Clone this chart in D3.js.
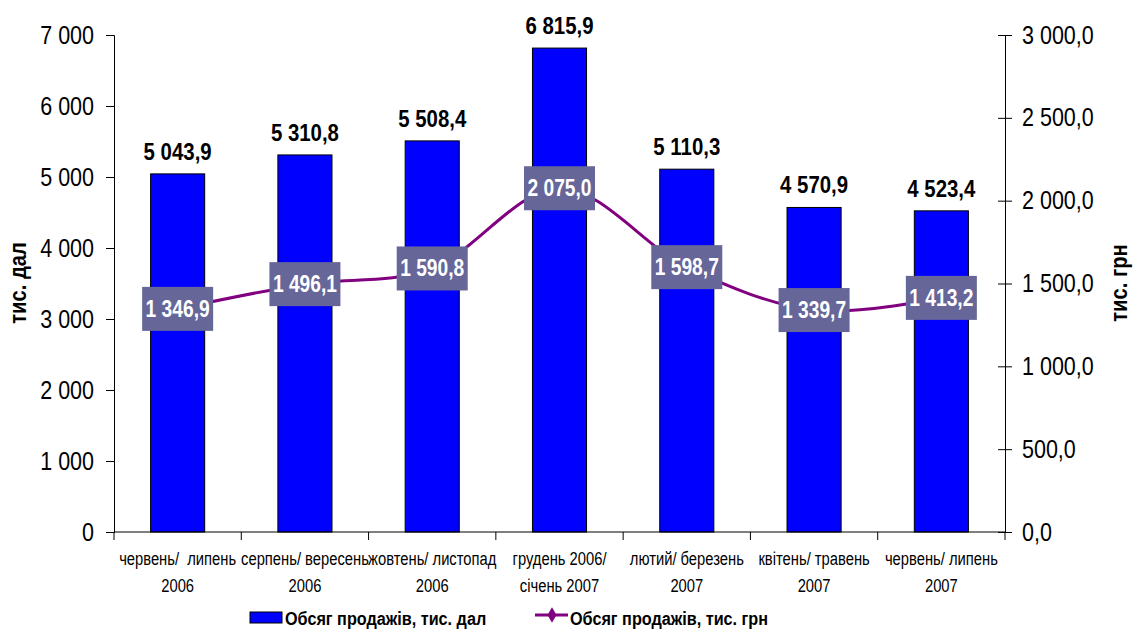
<!DOCTYPE html>
<html><head><meta charset="utf-8">
<script src="https://cdn.jsdelivr.net/npm/d3@7"></script>
<style>
body{margin:0;background:#fff;}
text{font-family:"Liberation Sans",Arial,sans-serif;white-space:pre;}
</style></head>
<body><svg id="c" width="1145" height="631"></svg>
<script>
const categories = [
  ["червень/  липень","2006"],
  ["серпень/ вересень","2006"],
  ["жовтень/ листопад","2006"],
  ["грудень 2006/","січень 2007"],
  ["лютий/ березень","2007"],
  ["квітень/ травень","2007"],
  ["червень/ липень","2007"]
];
const volumeDal = [5043.9, 5310.8, 5508.4, 6815.9, 5110.3, 4570.9, 4523.4];
const volumeUah = [1346.9, 1496.1, 1590.8, 2075.0, 1598.7, 1339.7, 1413.2];
const leftTicks = [0,1000,2000,3000,4000,5000,6000,7000];
const rightTicks = [0,500,1000,1500,2000,2500,3000];
const seriesNames = ["Обсяг продажів, тис. дал","Обсяг продажів, тис. грн"];
const axisTitles = ["тис. дал","тис. грн"];

const svg = d3.select("#c");
const L = 114, R = 1005, T = 35, B = 532;
const x = d3.scaleBand().domain(d3.range(categories.length)).range([L,R]).paddingInner(0.575).paddingOuter(0.2875);
const yL = d3.scaleLinear().domain([0,7000]).range([B,T]);
const yR = d3.scaleLinear().domain([0,3000]).range([B,T]);

const fmt = (v,dec) => {
  const s = v.toFixed(dec);
  let [i,f] = s.split(".");
  i = i.replace(/\B(?=(\d{3})+(?!\d))/g," ");
  return f!==undefined ? i+","+f : i;
};
function condense(sel,k){
  sel.each(function(){
    const l = this.getComputedTextLength();
    d3.select(this).attr("textLength",l*k).attr("lengthAdjust","spacingAndGlyphs");
  });
}

// bars
svg.append("g").selectAll("rect").data(volumeDal).join("rect")
  .attr("x",(d,i)=>x(i)).attr("width",x.bandwidth())
  .attr("y",d=>yL(d)).attr("height",d=>B-yL(d))
  .attr("fill","#0000ff").attr("stroke","#000").attr("stroke-width",1);

// bar labels
const bl = svg.append("g").selectAll("text").data(volumeDal).join("text")
  .attr("x",(d,i)=>x(i)+x.bandwidth()/2).attr("y",d=>yL(d)-14)
  .attr("text-anchor","middle").attr("font-size",24).attr("font-weight","bold")
  .text(d=>fmt(d,1));
condense(bl,0.85);

// left axis
const gl = svg.append("g").attr("transform",`translate(${L},0)`)
  .call(d3.axisLeft(yL).tickValues(leftTicks).tickSize(8).tickPadding(12).tickFormat(d=>fmt(d,0)));
gl.selectAll("text").attr("font-size",25).attr("fill","#000").attr("font-family",null);
gl.select(".domain").attr("stroke","#000");
gl.selectAll("line").attr("stroke","#000");
condense(gl.selectAll("text"),0.86);

// right axis
const gr = svg.append("g").attr("transform",`translate(${R},0)`)
  .call(d3.axisRight(yR).tickValues(rightTicks).tickSize(7).tickPadding(10).tickFormat(d=>fmt(d,1)));
gr.selectAll("text").attr("font-size",25).attr("fill","#000");
gr.select(".domain").attr("stroke","#000");
gr.selectAll("line").attr("stroke","#000");
gr.selectAll(".tick").append("line").attr("x1",-7).attr("x2",0).attr("stroke","#000");
condense(gr.selectAll("text"),0.86);
svg.selectAll(".tick text").attr("font-family","Liberation Sans, Arial, sans-serif");

// x axis
const step = x.step();
const gx = svg.append("g");
gx.append("line").attr("x1",L).attr("x2",R).attr("y1",B).attr("y2",B).attr("stroke","#000");
gx.selectAll("line.t").data(d3.range(categories.length+1)).join("line").attr("class","t")
  .attr("x1",i=>L+i*step).attr("x2",i=>L+i*step).attr("y1",B).attr("y2",B+8).attr("stroke","#000");
const xl = gx.selectAll("text").data(categories).join("text")
  .attr("text-anchor","middle").attr("font-size",18)
  .attr("transform",(d,i)=>`translate(${x(i)+x.bandwidth()/2},0)`);
xl.append("tspan").attr("x",0).attr("y",565).text(d=>d[0]);
xl.append("tspan").attr("x",0).attr("y",592).text(d=>d[1]);
condense(xl.selectAll("tspan"),0.82);

// line
const line = d3.line().x((d,i)=>x(i)+x.bandwidth()/2).y(d=>yR(d)).curve(d3.curveCatmullRom.alpha(0));
svg.append("path").datum(volumeUah).attr("d",line).attr("fill","none").attr("stroke","#800080").attr("stroke-width",3);

// line labels
const lg = svg.append("g").selectAll("g").data(volumeUah).join("g")
  .attr("transform",(d,i)=>`translate(${x(i)+x.bandwidth()/2},${yR(d)})`);
lg.append("rect").attr("x",-35.5).attr("y",-22).attr("width",71).attr("height",44).attr("fill","#666699");
const lt = lg.append("text").attr("text-anchor","middle").attr("y",8).attr("font-size",24).attr("font-weight","bold")
  .attr("fill","#fff").text(d=>fmt(d,1));
condense(lt,0.8);

// axis titles
const t1 = svg.append("text").attr("transform","translate(26,283) rotate(-90)").attr("text-anchor","middle")
  .attr("font-size",24).attr("font-weight","bold").text(axisTitles[0]);
const t2 = svg.append("text").attr("transform","translate(1127,283) rotate(-90)").attr("text-anchor","middle")
  .attr("font-size",24).attr("font-weight","bold").text(axisTitles[1]);
condense(t1,0.84); condense(t2,0.84);

// legend
const leg = svg.append("g");
leg.append("rect").attr("x",250).attr("y",612).attr("width",32).attr("height",11).attr("fill","#0000ff").attr("stroke","#000");
const lt1 = leg.append("text").attr("x",285).attr("y",625).attr("font-size",18).attr("font-weight","bold").text(seriesNames[0]);
leg.append("line").attr("x1",535).attr("x2",568).attr("y1",615).attr("y2",615).attr("stroke","#800080").attr("stroke-width",3);
leg.append("path").attr("d",d3.symbol(d3.symbolDiamond,70)()).attr("transform","translate(552,615)").attr("fill","#800080");
const lt2 = leg.append("text").attr("x",570).attr("y",625).attr("font-size",18).attr("font-weight","bold").text(seriesNames[1]);
condense(lt1,0.9); condense(lt2,0.9);
</script></body></html>
